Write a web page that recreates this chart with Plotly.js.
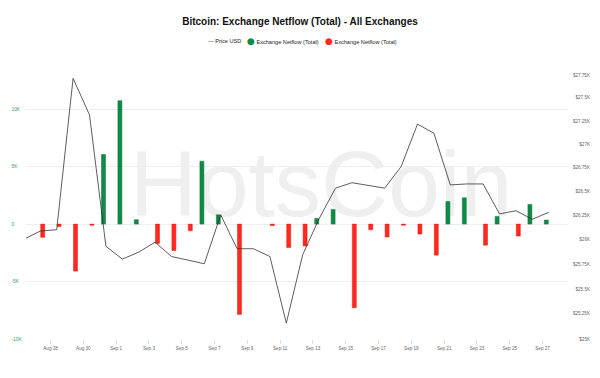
<!DOCTYPE html>
<html><head><meta charset="utf-8">
<script src="https://cdn.plot.ly/plotly-3.0.1.min.js"></script>
<style>html,body{margin:0;padding:0;background:#fff}#chart{width:600px;height:378px}</style>
</head><body><div id="chart"></div>
<script>
// ---- data (daily, UTC) ----
const dates = ['2023-08-26','2023-08-27','2023-08-28','2023-08-29','2023-08-30','2023-08-31',
  '2023-09-01','2023-09-02','2023-09-03','2023-09-04','2023-09-05','2023-09-06','2023-09-07',
  '2023-09-08','2023-09-09','2023-09-10','2023-09-11','2023-09-12','2023-09-13','2023-09-14',
  '2023-09-15','2023-09-16','2023-09-17','2023-09-18','2023-09-19','2023-09-20','2023-09-21',
  '2023-09-22','2023-09-23','2023-09-24','2023-09-25','2023-09-26','2023-09-27'];
const priceUSD = [26005,26090,26103,27713,27315,25933,25802,25873,25975,25828,25792,25755,26257,
  25908,25908,25828,25158,25847,26218,26536,26593,26563,26536,26763,27216,27118,26570,
  26580,26580,26267,26300,26212,26283];
const netflowBTC = [null,-1150,-200,-4090,-100,6060,10750,380,-1680,-2290,-580,5480,810,
  -7860,0,-120,-2030,-1910,490,1280,-7280,-490,-1130,-90,-870,-2700,1970,
  2290,-1830,670,-1040,1710,350];
const netflowTickVals = [-10000,-5000,0,5000,10000];
const netflowTickText = ['-10K','-5K','0','5K','10K'];
const priceTickVals = [25000,25250,25500,25750,26000,26250,26500,26750,27000,27250,27500,27750];
const priceTickText = ['$25K','$25.25K','$25.5K','$25.75K','$26K','$26.25K','$26.5K','$26.75K','$27K','$27.25K','$27.5K','$27.75K'];
const legendLabels = ['Price USD','Exchange Netflow (Total)','Exchange Netflow (Total)'];

// daily UTC timestamps shown on a UTC+9 axis
const xs = dates.map(d => d + ' 09:00');
const inflow = netflowBTC.map(v => (v !== null && v > 0) ? v : null);
const outflow = netflowBTC.map(v => (v !== null && v < 0) ? v : null);

const GREEN = '#0e8c46', RED = '#ff2a1f', LINE = '#333333';
const FONT = '"Liberation Sans", Arial, Helvetica, sans-serif';

const traces = [
  {type:'bar', x:xs, y:inflow, name:legendLabels[1], yaxis:'y',
   marker:{color:GREEN, line:{color:'#0a7038', width:0.5}}},
  {type:'bar', x:xs, y:outflow, name:legendLabels[2], yaxis:'y',
   marker:{color:RED, line:{color:'#e0180e', width:0.5}}},
  {type:'scatter', mode:'lines', x:xs, y:priceUSD, name:legendLabels[0], yaxis:'y2',
   line:{color:LINE, width:0.8}}
];

const W = 600, H = 378;
const plotL = 26, plotR = 567.5, plotT = 60, plotB = 339.3;
const py = pix => (plotB - pix) / (plotB - plotT);   // pixel row -> paper y
const legendY = py(41);
const legendFont = {size:5.6, color:'#222', family:FONT};
const dot = c => '<span style="color:'+c+';font-size:9px;font-family:DejaVu Sans">●</span>';

const layout = {
  width:W, height:H,
  margin:{l:0, r:0, t:plotT, b:H-plotB, pad:0},
  paper_bgcolor:'#fff', plot_bgcolor:'#fff',
  font:{family:FONT, color:'#555'},
  title:{text:'Bitcoin: Exchange Netflow (Total) - All Exchanges', x:0.5, xanchor:'center',
    y:1-21/H, yanchor:'middle', yref:'container', font:{size:10, color:'#111', weight:'bold', family:FONT}},
  showlegend:false,
  barmode:'group', bargap:0.415, bargroupgap:0.17,
  xaxis:{type:'date', domain:[plotL/W, plotR/W], range:['2023-08-26 12:04','2023-09-28 12:30'],
    tick0:'2023-08-28', dtick:2*86400000, tickformat:'%b %-d', ticks:'outside', ticklen:4,
    tickcolor:'#dddddd', tickfont:{size:4.6, color:'#666'}, showgrid:false, zeroline:false, showline:false},
  yaxis:{range:[-10000, 14287], tickmode:'array', tickvals:netflowTickVals, ticktext:netflowTickText,
    gridcolor:'#eeeeee', gridwidth:1, zeroline:false, showline:false, ticks:'',
    anchor:'free', position:7.5/W, ticklabelposition:'inside', ticklabeloverflow:'allow',
    tickfont:{size:4.8, color:'#2f9e6b'}},
  yaxis2:{type:'log', range:[4.397940, 4.445831], overlaying:'y', side:'right',
    anchor:'free', position:593/W, ticklabelposition:'inside', ticklabeloverflow:'allow',
    showgrid:false, zeroline:false, showline:false, ticks:'',
    tickmode:'array', tickvals:priceTickVals, ticktext:priceTickText,
    tickfont:{size:4.6, color:'#666'}},
  annotations:[
    {xref:'paper', yref:'paper', x:205.5/W, y:legendY, xanchor:'left', yanchor:'middle', showarrow:false,
     text:'<span style="color:'+LINE+'">—</span> '+legendLabels[0], font:legendFont},
    {xref:'paper', yref:'paper', x:244.5/W, y:legendY, xanchor:'left', yanchor:'middle', showarrow:false,
     text:dot(GREEN)+' '+legendLabels[1], font:legendFont},
    {xref:'paper', yref:'paper', x:322.5/W, y:legendY, xanchor:'left', yanchor:'middle', showarrow:false,
     text:dot(RED)+' '+legendLabels[2], font:legendFont}
  ],
  shapes:[{type:'rect', xref:'paper', yref:'paper', x0:0.40, x1:0.67, y0:0.49, y1:0.686,
    layer:'below', line:{width:0}, fillcolor:'rgba(0,0,0,0)',
    label:{text:'HotsCoin', textposition:'middle center', font:{size:93, color:'#efefef', family:FONT}}}]
};

Plotly.newPlot('chart', traces, layout, {displayModeBar:false, staticPlot:true});
</script>
</body></html>
